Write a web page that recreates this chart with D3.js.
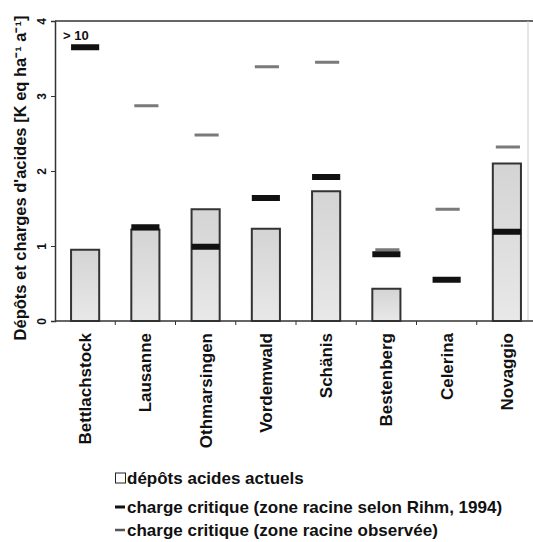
<!DOCTYPE html>
<html>
<head>
<meta charset="utf-8">
<script src="https://cdn.jsdelivr.net/npm/d3@7"></script>
<style>
  html, body { margin: 0; padding: 0; background: #fff; }
  text { font-family: "Liberation Sans", Arial, sans-serif; fill: #111; }
</style>
</head>
<body>
<svg id="chart" width="533" height="542"></svg>
<script>
// ---- data ----
const categories = ["Bettlachstock", "Lausanne", "Othmarsingen", "Vordemwald", "Schänis", "Bestenberg", "Celerina", "Novaggio"];
const depots     = [0.95, 1.22, 1.49, 1.23, 1.73, 0.43, null, 2.10];      // dépôts acides actuels
const critRihm   = [3.65, 1.25, 0.99, 1.64, 1.92, 0.89, 0.55, 1.19];      // charge critique (Rihm 1994)
const critObs    = [null, 2.87, 2.48, 3.39, 3.45, 0.95, 1.49, 2.32];      // charge critique (observée)
const rihmNotes  = ["> 10", "", "", "", "", "", "", ""];
const yTicks     = [0, 1, 2, 3, 4];
const yTitle     = "Dépôts et charges d'acides [K eq ha⁻¹ a⁻¹]";
const legendItems = ["dépôts acides actuels", "charge critique (zone racine selon Rihm, 1994)", "charge critique (zone racine observée)"];

const svg = d3.select("#chart");
const defs = svg.append("defs");
const grad = defs.append("linearGradient").attr("id", "barGrad").attr("x1", 0).attr("y1", 0).attr("x2", 0).attr("y2", 1);
grad.append("stop").attr("offset", "0%").attr("stop-color", "#d4d4d4");
grad.append("stop").attr("offset", "100%").attr("stop-color", "#e8e8e8");

const x = d3.scaleBand().domain(categories).range([55, 537]).paddingInner(0.5).paddingOuter(0.25);
const y = d3.scaleLinear().domain([0, 4]).range([321, 21]);

// frame
svg.append("line").attr("x1", 55).attr("x2", 533).attr("y1", y(4)).attr("y2", y(4)).attr("stroke", "#333").attr("stroke-width", 1.5);
svg.append("line").attr("x1", 528).attr("x2", 528).attr("y1", y(4)).attr("y2", y(0)).attr("stroke", "#ccc").attr("stroke-width", 1);

// bars
const barData = categories.map((c, i) => ({c, v: depots[i]})).filter(d => d.v != null);
svg.append("g").selectAll("rect").data(barData).join("rect")
  .attr("x", d => x(d.c) + 1)
  .attr("y", d => y(d.v))
  .attr("width", x.bandwidth() - 2)
  .attr("height", d => y(0) - y(d.v))
  .attr("fill", "url(#barGrad)")
  .attr("stroke", "#333")
  .attr("stroke-width", 2);

// critical load markers
const mw = x.bandwidth() - 4;
const obsData = categories.map((c, i) => ({c, v: critObs[i]})).filter(d => d.v != null);
svg.append("g").selectAll("rect").data(obsData).join("rect")
  .attr("x", d => x(d.c) + 4)
  .attr("y", d => y(d.v) - 1.5)
  .attr("width", mw - 2)
  .attr("height", 3)
  .attr("fill", "#7a7a7a");

const rihmData = categories.map((c, i) => ({c, v: critRihm[i], n: rihmNotes[i]}));
svg.append("g").selectAll("rect").data(rihmData).join("rect")
  .attr("x", d => x(d.c) + 1)
  .attr("y", d => y(d.v) - 3)
  .attr("width", x.bandwidth() - 2)
  .attr("height", 6)
  .attr("fill", "#111");
svg.append("g").selectAll("text").data(rihmData.filter(d => d.n)).join("text")
  .attr("x", d => x(d.c) - 7)
  .attr("y", d => y(d.v) - 7)
  .attr("font-size", 13)
  .attr("font-weight", "bold")
  .text(d => d.n);

// y axis
const yAxis = d3.axisLeft(y).tickValues(yTicks).tickSize(4).tickFormat(d3.format("d"));
const gy = svg.append("g").attr("transform", "translate(55,0)").call(yAxis);
gy.select(".domain").attr("stroke", "#333").attr("stroke-width", 1.5);
gy.selectAll(".tick line").attr("stroke", "#333");
gy.selectAll(".tick text")
  .attr("font-size", 12).attr("font-weight", "bold")
  .attr("font-family", "Liberation Sans, Arial, sans-serif")
  .attr("fill", "#111")
  .attr("x", null).attr("dy", null)
  .attr("text-anchor", "middle")
  .attr("transform", "translate(-13,0) rotate(-90)")
  .attr("dy", "0.35em");

// x axis
const gx = svg.append("g").attr("transform", `translate(0,${y(0)})`);
gx.append("line").attr("x1", 55).attr("x2", 533).attr("stroke", "#333").attr("stroke-width", 1.5);
gx.selectAll("line.tk").data(categories.slice(1)).join("line").attr("class", "tk")
  .attr("x1", c => x(c) - (x.step() - x.bandwidth()) / 2)
  .attr("x2", c => x(c) - (x.step() - x.bandwidth()) / 2)
  .attr("y1", 0).attr("y2", 4).attr("stroke", "#333");
gx.selectAll("text").data(categories).join("text")
  .attr("transform", c => `translate(${x(c) + x.bandwidth() / 2},12) rotate(-90)`)
  .attr("text-anchor", "end")
  .attr("dy", "0.35em")
  .attr("font-size", 17)
  .attr("font-weight", "bold")
  .text(c => c);

// y title
svg.append("text")
  .attr("transform", `translate(20,178) rotate(-90)`)
  .attr("text-anchor", "middle")
  .attr("dy", "0.35em")
  .attr("font-size", 16.5)
  .attr("font-weight", "bold")
  .text(yTitle);

// legend
const lg = svg.append("g").attr("transform", "translate(115,478)");
lg.append("rect").attr("x", 0.5).attr("y", -5).attr("width", 10).attr("height", 10).attr("fill", "#fff").attr("stroke", "#222");
lg.append("line").attr("x1", 0).attr("x2", 10).attr("y1", 29).attr("y2", 29).attr("stroke", "#111").attr("stroke-width", 3);
lg.append("line").attr("x1", 0).attr("x2", 10).attr("y1", 52).attr("y2", 52).attr("stroke", "#555").attr("stroke-width", 2.5);
lg.selectAll("text").data(legendItems).join("text")
  .attr("x", 12)
  .attr("y", (d, i) => [0, 29, 52][i])
  .attr("dy", "0.35em")
  .attr("font-size", 17)
  .attr("font-weight", "bold")
  .text(d => d);
</script>
</body>
</html>
